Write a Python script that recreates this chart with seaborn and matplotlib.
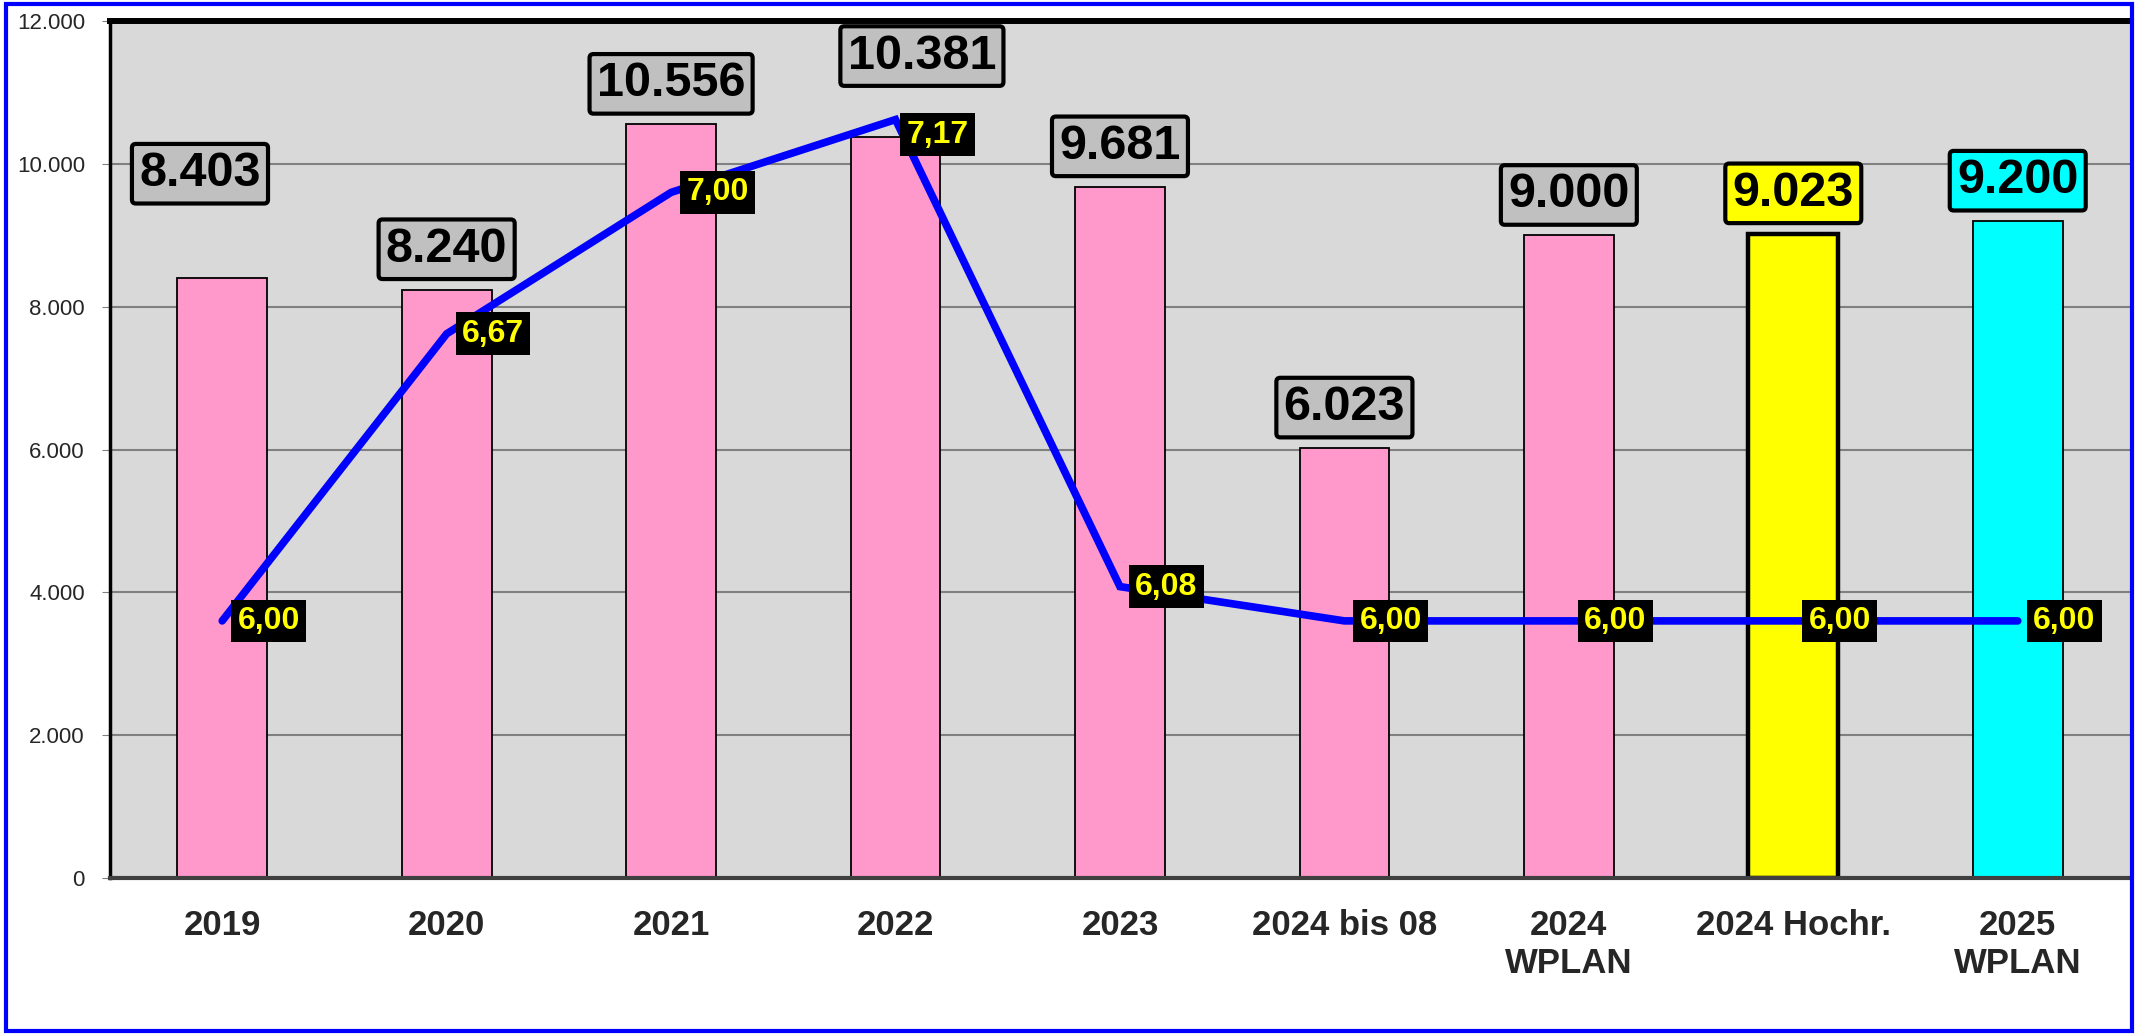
import numpy as np
import matplotlib
matplotlib.use("Agg")
import matplotlib.pyplot as plt
import seaborn as sns
from matplotlib.patches import Rectangle
from matplotlib.ticker import FuncFormatter, FixedLocator

# chart data
categories = ["2019", "2020", "2021", "2022", "2023", "2024 bis 08",
              "2024\nWPLAN", "2024 Hochr.", "2025\nWPLAN"]
values = [8403, 8240, 10556, 10381, 9681, 6023, 9000, 9023, 9200]
rates = [6.00, 6.67, 7.00, 7.17, 6.08, 6.00, 6.00, 6.00, 6.00]

# styling
bar_colors = ["#FF99CC"] * 7 + ["#FFFF00", "#00FFFF"]
label_faces = ["#C0C0C0"] * 7 + ["#FFFF00", "#00FFFF"]
label_shift = {0: (-16, 75), 3: (19, 58)}   # labels moved away from the line
rate_shift = {3: (8, -11)}

sns.set_style("white")
plt.rcParams["font.family"] = ["Liberation Sans", "DejaVu Sans"]

fig = plt.figure(figsize=(21.48, 10.35), dpi=100)
ax = fig.add_axes([0.0512, 0.1517, 0.9404, 0.828])
ax.set_facecolor("#D9D9D9")

sns.barplot(x=categories, y=values, hue=categories, palette=bar_colors,
            saturation=1, width=0.4, edgecolor="black", linewidth=1.3,
            legend=False, ax=ax)
ax.patches[7].set_linewidth(3.2)

ax.set_ylim(0, 12000)
ax.set_xlim(-0.5, len(categories) - 0.5)
ax.yaxis.set_major_locator(FixedLocator(np.arange(0, 12001, 2000)))
ax.yaxis.set_major_formatter(FuncFormatter(lambda v, p: f"{int(v):,}".replace(",", ".")))
ax.yaxis.grid(True, color="#808080", lw=1.5)
ax.set_axisbelow(True)
ax.tick_params(axis="y", labelsize=16, length=6, color="#808080", pad=12)
ax.tick_params(axis="x", which="major", length=0, labelsize=25, pad=22)
for t in ax.get_xticklabels():
    t.set_fontweight("bold")
ax.xaxis.set_minor_locator(FixedLocator(np.arange(-0.5, len(categories), 1.0)))
ax.tick_params(axis="x", which="minor", length=8, color="#808080", width=1.2)
ax.set_xlabel("")
ax.set_ylabel("")

ax.spines["top"].set_linewidth(4.3)
ax.spines["top"].set_color("black")
ax.spines["left"].set_linewidth(2.5)
ax.spines["left"].set_color("black")
ax.spines["bottom"].set_linewidth(3)
ax.spines["bottom"].set_color("#404040")
ax.spines["right"].set_visible(False)

for i, v in enumerate(values):
    dx, dy = label_shift.get(i, (0, 29))
    ax.annotate(f"{v:,}".replace(",", "."), xy=(i, v), xytext=(dx, dy),
                textcoords="offset points", ha="center", va="center",
                fontsize=35, fontweight="bold", color="black", zorder=5,
                bbox=dict(boxstyle="round,pad=0.15,rounding_size=0.08",
                          facecolor=label_faces[i], edgecolor="black", lw=3))

# secondary axis for the line
ax2 = ax.twinx()
sns.lineplot(x=list(range(len(rates))), y=rates, color="#0000FF", lw=5.5,
             ax=ax2, sort=False)
for ln in ax2.lines:
    ln.set_solid_capstyle("round")
    ln.set_solid_joinstyle("miter")
ax2.set_ylim(5.4, 7.4)
ax2.set_xlim(-0.5, len(categories) - 0.5)
ax2.set_yticks([])
ax2.set_ylabel("")
for s in ax2.spines.values():
    s.set_visible(False)

for i, r in enumerate(rates):
    dx, dy = rate_shift.get(i, (11, 0))
    ax2.annotate(f"{r:.2f}".replace(".", ","), xy=(i, r), xytext=(dx, dy),
                 textcoords="offset points", ha="left", va="center",
                 fontsize=23, fontweight="bold", color="#FFFF00",
                 bbox=dict(boxstyle="square,pad=0.2", facecolor="black",
                           edgecolor="none"))

fig.patches.append(Rectangle((6 / 2148, 4 / 1035), 2126 / 2148, 1027 / 1035,
                             transform=fig.transFigure, fill=False,
                             edgecolor="#0000FF", lw=3, zorder=10))

fig.savefig("out.png", dpi=100)
